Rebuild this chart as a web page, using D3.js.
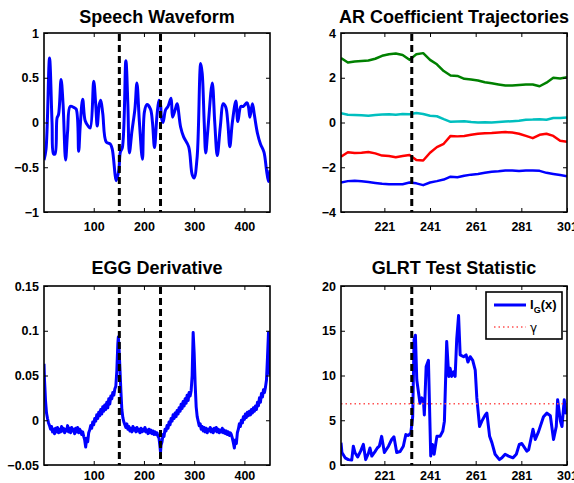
<!DOCTYPE html>
<html>
<head>
<meta charset="utf-8">
<title>Change detection</title>
<style>
  body { margin: 0; background: #fff; }
  text { font-family: "Liberation Sans", Arial, sans-serif; font-weight: bold; }
</style>
</head>
<body>
<svg width="574" height="483"></svg>
<script src="https://cdn.jsdelivr.net/npm/d3@7"></script>
<script>

// ---- data ----
var changePoints = [151, 233];
var arChange = 233;

var speechX = [1,5,12,17,20,23,27,30,35,39,44,48,53,60,65,70,73,78,83,89,93,100,104,107,111,114,118,125,133,137,145,150,153,157,164,168,171,176,182,186,191,197,201,206,213,217,221,226,230,233,235,238,243,248,254,257,263,266,273,279,289,296,300,306,313,316,320,323,327,336,341,346,352,358,363,367,371,376,383,387,393,398,405,408,411,416,420,426,432,439,444,448,451];
var speechY = [-0.42,-0.30,0.72,0.0,-0.35,-0.35,0.05,0.09,0.48,0.2,-0.42,-0.1,0.18,0.17,0.15,-0.32,-0.05,0.26,0.02,-0.04,-0.06,0.46,0.2,-0.04,0.2,0.25,0.1,-0.22,-0.24,-0.3,-0.65,-0.53,-0.33,-0.28,0.69,0.2,-0.34,-0.1,0.15,0.44,0.0,-0.41,0.12,0.2,0.15,0.0,-0.28,0.08,0.25,0.2,0.05,0.0,0.14,0.18,0.27,0.06,0.16,0.21,-0.05,-0.16,-0.27,-0.58,-0.62,-0.38,0.66,0.55,0.0,-0.34,-0.1,0.44,0.0,-0.37,-0.05,0.21,0.17,0.0,-0.27,0.0,0.24,0.01,0.18,0.18,0.22,0.18,0.06,0.21,0.08,-0.12,-0.24,-0.33,-0.53,-0.66,-0.53];

var arX = [202,205,208,211,214,217,220,223,226,229,232,235,238,241,244,247,250,253,256,259,262,265,268,271,274,277,280,283,286,289,292,295,298,301];
var arGreen = [2.88,2.68,2.73,2.75,2.77,2.85,2.98,3.05,3.08,3.02,2.8,3.05,3.1,2.8,2.6,2.3,2.1,2.08,1.95,1.92,1.88,1.8,1.75,1.7,1.65,1.65,1.68,1.7,1.7,1.62,1.78,2.0,1.97,2.02];
var arCyan = [0.42,0.35,0.34,0.32,0.3,0.33,0.36,0.37,0.35,0.38,0.37,0.42,0.38,0.3,0.28,0.15,0.03,0.05,0.06,0.02,0.0,0.01,0.0,0.02,0.04,0.06,0.08,0.12,0.13,0.15,0.12,0.2,0.2,0.22];
var arRed = [-1.53,-1.33,-1.36,-1.35,-1.32,-1.38,-1.48,-1.5,-1.55,-1.5,-1.45,-1.68,-1.7,-1.35,-1.1,-0.95,-0.6,-0.62,-0.6,-0.55,-0.5,-0.48,-0.47,-0.45,-0.43,-0.45,-0.5,-0.6,-0.7,-0.55,-0.5,-0.6,-0.82,-0.86];
var arBlue = [-2.68,-2.62,-2.6,-2.63,-2.66,-2.7,-2.74,-2.76,-2.76,-2.76,-2.68,-2.72,-2.8,-2.68,-2.62,-2.55,-2.42,-2.45,-2.38,-2.33,-2.3,-2.25,-2.2,-2.18,-2.15,-2.14,-2.17,-2.15,-2.14,-2.16,-2.25,-2.3,-2.35,-2.4];
var arColors = ["#008000", "#00bfbf", "#ff0000", "#0000ff"];

var eggX = [1,2,3,4,5,6,8,10,12,14,16,18,20,22,24,26,28,30,32,34,36,38,40,42,44,46,48,50,52,54,56,58,60,62,64,66,68,70,72,74,76,78,80,82,84,86,88,90,92,94,96,98,100,102,104,106,108,110,112,114,116,118,120,122,124,126,128,130,132,134,136,138,140,142,144,146,148,149,150,152,154,156,158,160,162,164,166,168,170,172,174,176,178,180,182,184,186,188,190,192,194,196,198,200,202,204,206,208,210,212,214,216,218,220,222,224,226,228,230,232,233,234,236,238,240,242,244,246,248,250,252,254,256,258,260,262,264,266,268,270,272,274,276,278,280,282,284,286,288,290,292,294,296,298,300,302,304,306,308,310,312,314,316,318,320,322,324,326,328,330,332,334,336,338,340,342,344,346,348,350,352,354,356,358,360,362,364,366,368,370,372,374,376,378,380,382,384,386,388,390,392,394,396,398,400,402,404,406,408,410,412,414,416,418,420,422,424,426,428,430,432,434,436,438,440,442,444,446,448,449,450,451];
var eggY = [0.063,0.045,0.034,0.022,0.015,0.008,0.002,-0.003,-0.006,-0.010,-0.007,-0.013,-0.010,-0.015,-0.009,-0.013,-0.008,-0.014,-0.010,-0.013,-0.007,-0.012,-0.009,-0.014,-0.010,-0.012,-0.006,-0.013,-0.009,-0.014,-0.008,-0.012,-0.010,-0.015,-0.009,-0.013,-0.008,-0.014,-0.010,-0.012,-0.016,-0.013,-0.018,-0.022,-0.030,-0.020,-0.024,-0.014,-0.011,-0.006,-0.009,-0.002,-0.005,0.002,-0.001,0.006,0.002,0.009,0.005,0.012,0.007,0.015,0.010,0.017,0.012,0.020,0.014,0.024,0.018,0.027,0.024,0.031,0.028,0.035,0.038,0.055,0.085,0.093,0.085,0.060,0.034,0.012,0.003,-0.002,-0.005,-0.008,-0.004,-0.010,-0.007,-0.012,-0.009,-0.013,-0.007,-0.011,-0.009,-0.013,-0.008,-0.012,-0.010,-0.014,-0.009,-0.013,-0.010,-0.012,-0.008,-0.013,-0.011,-0.015,-0.010,-0.014,-0.011,-0.015,-0.012,-0.016,-0.013,-0.016,-0.014,-0.018,-0.020,-0.030,-0.036,-0.028,-0.024,-0.016,-0.018,-0.010,-0.012,-0.006,-0.009,-0.002,-0.005,0.002,-0.001,0.006,0.002,0.008,0.004,0.011,0.007,0.014,0.010,0.018,0.013,0.021,0.016,0.024,0.019,0.028,0.022,0.031,0.027,0.033,0.050,0.098,0.075,0.040,0.015,0.004,-0.001,-0.006,-0.004,-0.010,-0.007,-0.012,-0.008,-0.013,-0.009,-0.014,-0.010,-0.012,-0.008,-0.013,-0.010,-0.014,-0.009,-0.012,-0.008,-0.013,-0.010,-0.014,-0.011,-0.013,-0.009,-0.014,-0.011,-0.015,-0.012,-0.016,-0.013,-0.017,-0.014,-0.016,-0.020,-0.025,-0.031,-0.022,-0.026,-0.014,-0.010,-0.004,-0.007,0.000,-0.003,0.004,0.001,0.007,0.003,0.009,0.005,0.010,0.006,0.012,0.008,0.014,0.010,0.016,0.012,0.020,0.016,0.025,0.020,0.030,0.026,0.034,0.031,0.037,0.045,0.070,0.098,0.090,0.055,0.050];

var glrtX = [202,202.4,203.8,205.2,206.7,207.4,208.1,209.3,210.6,211.8,212.8,214,214.7,215.5,216.9,217.9,218.8,219.8,221,222.8,224.2,225.2,226.4,227.9,229.3,230.4,231.5,232.6,233.4,234,234.6,235.2,236.6,237.4,238.1,238.5,239.3,240.3,241.3,242.1,242.8,244,245.4,246.6,247.3,248.3,249.2,249.8,250.5,251.3,252,252.7,253.5,254.2,255.7,256.8,257.6,258.6,259.7,260.8,261.5,262.7,263.7,265.2,265.9,267.1,268.1,269.5,271.4,272.5,273.9,275.4,277.3,278.8,280.1,281.2,283.4,284.2,286.1,287.1,288.5,290.7,292.2,293.7,295.1,296.3,296.9,298.1,298.8,299.8,300.5,301];
var glrtY = [2.5,1.4,0.8,0.6,0.55,2.1,1.4,0.9,1.55,2.3,0.6,1.3,1.9,1.0,1.5,1.9,2.1,3.2,1.4,2.1,2.85,3.15,1.4,1.5,2.1,3.4,3.3,3.6,5.4,14.0,14.5,9.5,6.9,7.5,7.3,5.6,11.0,11.7,1.0,2.3,1.2,3.2,3.2,3.8,4.9,13.8,9.9,10.8,9.9,10.4,9.9,14.1,16.7,12.3,12.1,12.3,11.5,12.1,11.7,10.6,7.5,4.3,4.9,5.6,5.8,3.2,2.5,1.2,0.6,0.8,1.2,1.0,0.8,1.2,2.3,2.4,1.55,1.7,4.0,2.85,3.7,5.4,5.8,5.5,2.85,4.3,7.3,4.9,4.3,7.3,5.8,6.0];
var gamma = 6.85;

// ---- layout ----
var svg = d3.select("svg");
var boxW = 226, boxH = 179;

function fmt(d) {
  return d < 0 ? "\u2212" + Math.abs(d) : String(d);
}

function makePanel(o) {
  var g = svg.append("g").attr("transform", "translate(" + o.left + "," + o.top + ")");
  var x = d3.scaleLinear().domain(o.xDomain).range([0, boxW]);
  var y = d3.scaleLinear().domain(o.yDomain).range([boxH, 0]);

  g.append("defs").append("clipPath").attr("id", o.id)
    .append("rect").attr("width", boxW).attr("height", boxH);

  var plot = g.append("g").attr("clip-path", "url(#" + o.id + ")");

  g.append("text")
      .attr("x", boxW / 2)
      .attr("y", o.titleY)
      .attr("text-anchor", "middle")
      .style("font-size", "18px")
      .text(o.title);

  var bottom = g.append("g").attr("transform", "translate(0," + boxH + ")")
      .call(d3.axisBottom(x).tickValues(o.xTicks).tickFormat(fmt).tickSize(-4).tickPadding(o.xPad));
  var top = g.append("g")
      .call(d3.axisTop(x).tickValues(o.xTicks).tickFormat("").tickSize(-4));
  var left = g.append("g")
      .call(d3.axisLeft(y).tickValues(o.yTicks).tickFormat(fmt).tickSize(-4).tickPadding(5));
  var right = g.append("g").attr("transform", "translate(" + boxW + ",0)")
      .call(d3.axisRight(y).tickValues(o.yTicks).tickFormat("").tickSize(-4));

  [bottom, top, left, right].forEach(function(a) {
    a.select(".domain").remove();
    a.selectAll("line").attr("stroke", "#000").attr("stroke-width", 1);
    a.selectAll("text")
        .attr("fill", "#000")
        .style("font-size", "12.5px")
        .style("font-family", "'Liberation Sans', Arial, sans-serif")
        .style("font-weight", "bold");
  });

  g.append("rect")
      .attr("width", boxW).attr("height", boxH)
      .attr("fill", "none").attr("stroke", "#000").attr("stroke-width", 1.6);

  return { g: g, plot: plot, x: x, y: y };
}

function drawLine(p, xs, ys, color, width, curve) {
  var pts = xs.map(function(d, i) { return [d, ys[i]]; });
  p.plot.append("path")
      .datum(pts)
      .attr("fill", "none")
      .attr("stroke", color)
      .attr("stroke-width", width)
      .attr("stroke-linejoin", "round")
      .attr("d", d3.line()
          .x(function(d) { return p.x(d[0]); })
          .y(function(d) { return p.y(d[1]); })
          .curve(curve || d3.curveLinear));
}

function drawChange(p, values) {
  p.plot.selectAll(null)
    .data(values)
    .enter().append("line")
      .attr("x1", function(d) { return p.x(d); })
      .attr("x2", function(d) { return p.x(d); })
      .attr("y1", p.y.range()[1] + 1)
      .attr("y2", p.y.range()[0])
      .attr("stroke", "#000")
      .attr("stroke-width", 3)
      .attr("stroke-dasharray", "7,4");
}

// Speech waveform
var p1 = makePanel({
  id: "c1", left: 44, top: 33, title: "Speech Waveform", titleY: -10, xPad: 10,
  xDomain: [1, 451], yDomain: [-1, 1],
  xTicks: [100, 200, 300, 400], yTicks: [-1, -0.5, 0, 0.5, 1]
});
drawLine(p1, speechX, speechY, "#0000ff", 3, d3.curveCatmullRom);
drawChange(p1, changePoints);

// AR coefficients
var p2 = makePanel({
  id: "c2", left: 341, top: 33, title: "AR Coefficient Trajectories", titleY: -10, xPad: 10,
  xDomain: [202, 301], yDomain: [-4, 4],
  xTicks: [221, 241, 261, 281, 301], yTicks: [-4, -2, 0, 2, 4]
});
[arGreen, arCyan, arRed, arBlue].forEach(function(s, i) {
  drawLine(p2, arX, s, arColors[i], 2.5);
});
drawChange(p2, [arChange]);

// EGG derivative
var p3 = makePanel({
  id: "c3", left: 44, top: 286, title: "EGG Derivative", titleY: -12, xPad: 6,
  xDomain: [1, 451], yDomain: [-0.05, 0.15],
  xTicks: [100, 200, 300, 400], yTicks: [-0.05, 0, 0.05, 0.1, 0.15]
});
drawLine(p3, eggX, eggY, "#0000ff", 3);
drawChange(p3, changePoints);

// GLRT statistic
var p4 = makePanel({
  id: "c4", left: 341, top: 286, title: "GLRT Test Statistic", titleY: -12, xPad: 6,
  xDomain: [202, 301], yDomain: [0, 20],
  xTicks: [221, 241, 261, 281, 301], yTicks: [0, 5, 10, 15, 20]
});
drawLine(p4, glrtX, glrtY, "#0000ff", 3);
p4.plot.append("line")
    .attr("x1", 0).attr("x2", boxW)
    .attr("y1", p4.y(gamma)).attr("y2", p4.y(gamma))
    .attr("stroke", "#ff5050")
    .attr("stroke-width", 1.5)
    .attr("stroke-dasharray", "1.5,3");
drawChange(p4, [arChange]);

// legend
var lg = p4.g.append("g").attr("transform", "translate(145,6)");
lg.append("rect")
    .attr("width", 76).attr("height", 47)
    .attr("fill", "#fff").attr("stroke", "#000").attr("stroke-width", 1.6);
lg.append("line")
    .attr("x1", 8).attr("x2", 40).attr("y1", 13).attr("y2", 13)
    .attr("stroke", "#0000ff").attr("stroke-width", 3);
var lt = lg.append("text").attr("x", 44).attr("y", 17).style("font-size", "13px");
lt.append("tspan").text("I");
lt.append("tspan").attr("dy", 4).style("font-size", "9px").text("G");
lt.append("tspan").attr("dy", -4).text("(x)");
lg.append("line")
    .attr("x1", 8).attr("x2", 40).attr("y1", 35).attr("y2", 35)
    .attr("stroke", "#ff5050").attr("stroke-width", 1.5)
    .attr("stroke-dasharray", "1.5,3");
lg.append("text")
    .attr("x", 44).attr("y", 40)
    .style("font-size", "12px").style("font-weight", "normal")
    .style("font-family", "'DejaVu Sans', sans-serif")
    .text("\u03b3");

</script>
</body>
</html>
